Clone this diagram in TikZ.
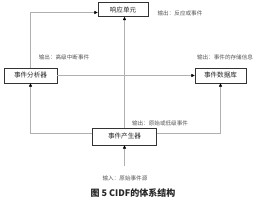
\documentclass[tikz,border=0pt]{standalone}
\usepackage{fontspec}
\newfontfamily\cjk{Noto Sans CJK SC}
\usetikzlibrary{arrows.meta,positioning,calc}
\definecolor{boxline}{HTML}{333333}
\definecolor{wire}{HTML}{B0B0B0}
\definecolor{inkgrey}{HTML}{555555}
\tikzset{
  unitbox/.style = {draw=boxline, line width=0.8pt, fill=white, text=black!85,
                    inner sep=1pt, font=\cjk\fontsize{6.6}{7}\selectfont},
  note/.style    = {text=inkgrey, inner sep=0pt, font=\cjk\fontsize{5.6}{6}\selectfont},
  flow/.style    = {-{Triangle[length=3.2pt,width=3.2pt,black]}, draw=wire, line width=0.5pt},
}
\begin{document}
\begin{tikzpicture}[x=1pt,y=-1pt]
    \useasboundingbox (0,0) rectangle (260,200);
    \node[unitbox,minimum width=50pt,minimum height=14pt] (resp) at (123,9.5) {响应单元};
    \node[unitbox,minimum width=53pt,minimum height=15pt] (ana) at (30.5,75.5) {事件分析器};
    \node[unitbox,minimum width=51pt,minimum height=15pt] (db) at (220.5,75.5) {事件数据库};
    \node[unitbox,minimum width=64pt,minimum height=17pt] (gen) at (124.5,136.5) {事件产生器};
    \coordinate (src) at (124.5,166);
    \draw[flow] (ana.north) |- ([yshift=-3pt]resp.west);
    \draw[flow] (gen.north) -- (gen.north |- resp.south);
    \draw[flow] (ana.east) -- (db.west);
    \draw[flow] ([yshift=3pt]gen.west) -| (ana.south);
    \draw[flow] ([yshift=3pt]gen.east) -| (db.south);
    \draw[flow] (src) -- (gen.south);
    \node[note] (l1) at (180,13.5) {输出：反应或事件};
    \node[note] (l2) at (64,57) {输出：高级中断事件};
    \node[note] (l3) at (225,57) {输出：事件的存储信息};
    \node[note] (l4) at (160,123) {输出：原始或低级事件};
    \node[note] (l5) at (125,178) {输入：原始事件源};
    \node[inner sep=0pt,font=\cjk\bfseries\fontsize{9}{10}\selectfont,text=black!85] (cap) at (133,193) {图 5 CIDF的体系结构};
\end{tikzpicture}
\end{document}
